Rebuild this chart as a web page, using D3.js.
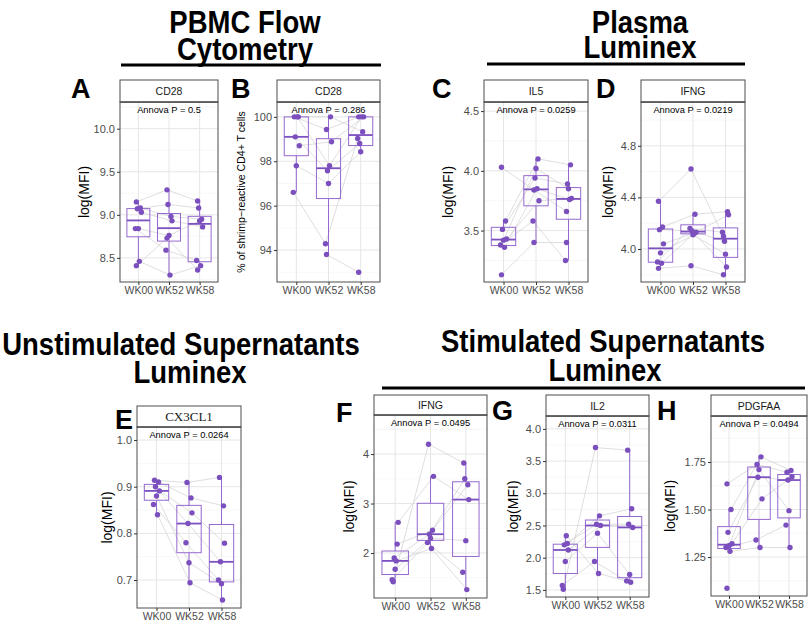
<!DOCTYPE html>
<html>
<head>
<meta charset="utf-8">
<script src="https://cdn.jsdelivr.net/npm/d3@7"></script>
<style>
  body { margin: 0; background: #fff; }
  svg text { font-family: "Liberation Sans", Arial, sans-serif; }
</style>
</head>
<body>
<svg id="fig" width="810" height="624"></svg>
<script>
var GROUPS = ["WK00", "WK52", "WK58"];

// one value per subject, null where the subject has no sample
var A_WK00 = [9.15, 9.08, 9.07, 9.03, 8.84, 8.84, 8.46, 8.41];
var A_WK52 = [9.29, 8.98, 9.12, 8.93, 8.76, 8.59, 8.30, 8.73];
var A_WK58 = [9.16, 8.95, 9.08, 8.86, 8.93, 8.47, 8.41, 8.36];
var A_TICKS = [8.5, 9.0, 9.5, 10.0];

var B_WK00 = [100, 100, 99.1, 98.7, 97.8, 96.6, 100, null];
var B_WK52 = [99.43, 100, 97.57, 98.88, 97.0, 94.28, 97.8, 93.8];
var B_WK58 = [100, 99.33, 98.8, 100, 98.43, 99.03, 100, 93.0];
var B_TICKS = [94, 96, 98, 100];

var C_WK00 = [4.03, 3.58, 3.51, 3.43, 3.42, 3.38, 3.36, 3.13];
var C_WK52 = [3.84, 4.10, 3.94, 3.75, 4.02, 3.58, 3.85, 3.40];
var C_WK58 = [3.66, 4.05, 3.89, 3.77, 3.85, 3.25, 3.76, 3.40];
var C_TICKS = [3.5, 4.0, 4.5];

var D_WK00 = [4.37, 4.17, 4.15, 4.04, 3.97, 3.90, 3.89, 3.85];
var D_WK52 = [4.62, 4.27, 4.14, 4.13, 4.11, 4.16, 4.12, 3.87];
var D_WK58 = [4.10, 4.29, 4.06, 4.265, 3.96, 4.13, 3.86, 3.80];
var D_TICKS = [4.0, 4.4, 4.8];

var E_WK00 = [0.914, 0.91, 0.90, 0.891, 0.88, 0.862, 0.84, null];
var E_WK52 = [0.909, 0.876, 0.821, 0.844, 0.737, 0.780, 0.694, null];
var E_WK58 = [0.92, 0.859, 0.739, 0.779, 0.692, 0.70, 0.657, null];
var E_TICKS = [0.7, 0.8, 0.9, 1.0];

var F_WK00 = [1.42, 2.18, 1.90, 2.62, 1.67, 1.46, 1.84, null];
var F_WK52 = [4.20, 2.46, 2.38, 3.55, 2.30, 2.21, 2.09, null];
var F_WK58 = [3.82, 3.38, 3.50, 3.08, 2.25, 1.61, 1.26, null];
var F_TICKS = [2, 3, 4];

var G_WK00 = [1.51, 2.22, 2.20, 2.12, 1.94, 1.57, 2.34, null];
var G_WK52 = [3.71, 2.65, 2.52, 2.50, 2.38, 1.94, 1.755, null];
var G_WK58 = [3.67, 2.76, 2.52, 2.47, 1.74, 1.64, 1.62, null];
var G_TICKS = [1.5, 2.0, 2.5, 3.0, 3.5, 4.0];

var H_WK00 = [1.635, 1.50, 1.38, 1.32, 1.31, 1.30, 1.28, 1.086];
var H_WK52 = [1.737, 1.777, 1.67, 1.556, 1.71, 1.34, 1.30, null];
var H_WK58 = [1.696, 1.705, 1.655, 1.672, 1.494, 1.418, 1.30, null];
var H_TICKS = [1.25, 1.50, 1.75];

var PT_COLOR = "#7b4fbd",
    BOX_COLOR = "#9569cf",
    PAIR_COLOR = "#d6d6d6",
    JIT = [-2, 2, -1, 3, 0, -3, 1, -2];

var svg = d3.select("#fig");

function boxStats(vals) {
  var s = vals.filter(function(v) { return v != null; }).sort(d3.ascending);
  var q1 = d3.quantile(s, 0.25), med = d3.quantile(s, 0.5), q3 = d3.quantile(s, 0.75);
  var iqr = q3 - q1;
  var lo = d3.min(s.filter(function(v) { return v >= q1 - 1.5 * iqr; }));
  var hi = d3.max(s.filter(function(v) { return v <= q3 + 1.5 * iqr; }));
  return {q1: q1, med: med, q3: q3, lo: lo, hi: hi};
}

function makePanel(p) {
  var g = svg.append("g");
  var x = d3.scalePoint().domain(GROUPS).range([p.x0, p.x1]).padding(0.6);
  var y = d3.scaleLinear().domain(p.domain).range([p.bottom, p.stripB]);
  var W = p.x1 - p.x0, H = p.bottom - p.stripB;

  g.append("rect").attr("x", p.x0).attr("y", p.stripB).attr("width", W).attr("height", H)
    .attr("fill", "#fff");

  // grid
  var step = p.ticks[1] - p.ticks[0], minor = [];
  for (var i = -1; i < p.ticks.length; i++) {
    var v = p.ticks[0] + step * (i + 0.5);
    if (v > p.domain[0] && v < p.domain[1]) minor.push(v);
  }
  g.selectAll(".minor").data(minor).enter().append("line")
    .attr("x1", p.x0).attr("x2", p.x1)
    .attr("y1", function(d) { return y(d); }).attr("y2", function(d) { return y(d); })
    .attr("stroke", "#f1f1f1").attr("stroke-width", 0.6);
  g.selectAll(".major").data(p.ticks).enter().append("line")
    .attr("x1", p.x0).attr("x2", p.x1)
    .attr("y1", function(d) { return y(d); }).attr("y2", function(d) { return y(d); })
    .attr("stroke", "#e6e6e6").attr("stroke-width", 1);
  g.selectAll(".vmajor").data(GROUPS).enter().append("line")
    .attr("x1", function(d) { return x(d); }).attr("x2", function(d) { return x(d); })
    .attr("y1", p.stripB).attr("y2", p.bottom)
    .attr("stroke", "#e6e6e6").attr("stroke-width", 1);

  // paired lines per subject
  var n = p.data[0].length;
  var line = d3.line().x(function(d) { return d[0]; }).y(function(d) { return d[1]; });
  for (var s = 0; s < n; s++) {
    var pts = [];
    p.data.forEach(function(arr, gi) {
      if (arr[s] != null) pts.push([x(GROUPS[gi]) + JIT[s], y(arr[s])]);
    });
    if (pts.length > 1) {
      g.append("path").attr("d", line(pts)).attr("fill", "none")
        .attr("stroke", PAIR_COLOR).attr("stroke-width", 0.8);
    }
  }

  // boxes
  var hw = x.step() * 0.375;
  p.data.forEach(function(arr, gi) {
    var st = boxStats(arr), cx = x(GROUPS[gi]);
    g.append("line").attr("x1", cx).attr("x2", cx).attr("y1", y(st.q3)).attr("y2", y(st.hi))
      .attr("stroke", BOX_COLOR).attr("stroke-width", 1);
    g.append("line").attr("x1", cx).attr("x2", cx).attr("y1", y(st.q1)).attr("y2", y(st.lo))
      .attr("stroke", BOX_COLOR).attr("stroke-width", 1);
    g.append("rect").attr("x", cx - hw).attr("y", y(st.q3)).attr("width", 2 * hw)
      .attr("height", y(st.q1) - y(st.q3))
      .attr("fill", "none").attr("stroke", BOX_COLOR).attr("stroke-width", 1);
    g.append("line").attr("x1", cx - hw).attr("x2", cx + hw).attr("y1", y(st.med)).attr("y2", y(st.med))
      .attr("stroke", "#7d52c0").attr("stroke-width", 1.8);
  });

  // points
  p.data.forEach(function(arr, gi) {
    arr.forEach(function(v, s) {
      if (v == null) return;
      g.append("circle").attr("cx", x(GROUPS[gi]) + JIT[s]).attr("cy", y(v)).attr("r", 2.7)
        .attr("fill", PT_COLOR);
    });
  });

  // panel border and strip
  g.append("rect").attr("x", p.x0).attr("y", p.stripB).attr("width", W).attr("height", H)
    .attr("fill", "none").attr("stroke", "#4d4d4d").attr("stroke-width", 1);
  g.append("rect").attr("x", p.x0).attr("y", p.top).attr("width", W).attr("height", p.stripB - p.top)
    .attr("fill", "#fff").attr("stroke", "#4d4d4d").attr("stroke-width", 1);
  g.append("line").attr("x1", p.x0).attr("x2", p.x1).attr("y1", p.stripB).attr("y2", p.stripB)
    .attr("stroke", "#555").attr("stroke-width", 1.6);
  g.append("text").attr("x", (p.x0 + p.x1) / 2).attr("y", (p.top + p.stripB) / 2 + 4)
    .attr("text-anchor", "middle").style("font-size", p.serif ? "13px" : "10.5px")
    .style("font-family", p.serif ? "'Liberation Serif', 'Times New Roman', serif" : null)
    .attr("fill", "#1a1a1a").text(p.title);
  g.append("text").attr("x", (p.x0 + p.x1) / 2).attr("y", p.stripB + 11)
    .attr("text-anchor", "middle").style("font-size", "9.3px").attr("fill", "#000")
    .text(p.pval);

  // axes
  var ya = g.append("g").attr("transform", "translate(" + p.x0 + ",0)")
    .call(d3.axisLeft(y).tickValues(p.ticks).tickSize(3).tickPadding(2).tickFormat(d3.format(p.fmt)));
  var xa = g.append("g").attr("transform", "translate(0," + p.bottom + ")")
    .call(d3.axisBottom(x).tickSize(3).tickPadding(2));
  [ya, xa].forEach(function(a) {
    a.select(".domain").remove();
    a.selectAll(".tick line").attr("stroke", "#333");
    a.selectAll(".tick text").attr("fill", "#4d4d4d")
      .style("font-family", "'Liberation Sans', Arial, sans-serif");
  });
  ya.selectAll(".tick text").style("font-size", "11px");
  xa.selectAll(".tick text").style("font-size", "10.5px");

  g.append("text")
    .attr("transform", "translate(" + p.ylabX + "," + ((p.stripB + p.bottom) / 2) + ") rotate(-90)")
    .attr("text-anchor", "middle").style("font-size", p.ylabSize).attr("fill", "#000")
    .text(p.ylab);

  g.append("text").attr("x", p.lx).attr("y", p.ly).style("font-size", "27px")
    .style("font-weight", "bold").attr("fill", "#000").text(p.letter);
}

var row1 = {top: 80, stripB: 102, bottom: 282};
var panels = [
  {letter: "A", lx: 71, ly: 98, title: "CD28", pval: "Annova P = 0.5", x0: 120, x1: 218,
   domain: [8.22, 10.31], ticks: A_TICKS, fmt: ".1f", ylab: "log(MFI)", ylabSize: "14px", ylabX: 89,
   data: [A_WK00, A_WK52, A_WK58]},
  {letter: "B", lx: 231, ly: 98, title: "CD28", pval: "Annova P = 0.286", x0: 277, x1: 380,
   domain: [92.56, 100.67], ticks: B_TICKS, fmt: "d", ylab: "% of shrimp\u2212reactive CD4+ T cells",
   ylabSize: "10.5px", ylabX: 245, data: [B_WK00, B_WK52, B_WK58]},
  {letter: "C", lx: 432, ly: 98, title: "IL5", pval: "Annova P = 0.0259", x0: 484, x1: 588,
   domain: [3.07, 4.576], ticks: C_TICKS, fmt: ".1f", ylab: "log(MFI)", ylabSize: "14px", ylabX: 453,
   data: [C_WK00, C_WK52, C_WK58]},
  {letter: "D", lx: 596, ly: 98, title: "IFNG", pval: "Annova P = 0.0219", x0: 641, x1: 745,
   domain: [3.744, 5.14], ticks: D_TICKS, fmt: ".1f", ylab: "log(MFI)", ylabSize: "14px", ylabX: 613,
   data: [D_WK00, D_WK52, D_WK58]}
];
panels.forEach(function(p) { p.top = row1.top; p.stripB = row1.stripB; p.bottom = row1.bottom; });

panels.push(
  {letter: "E", lx: 115, ly: 429, title: "CX3CL1", serif: true, pval: "Annova P = 0.0264",
   x0: 137, x1: 241, top: 406, stripB: 427, bottom: 608,
   domain: [0.64, 1.028], ticks: E_TICKS, fmt: ".1f", ylab: "log(MFI)", ylabSize: "14px", ylabX: 112,
   data: [E_WK00, E_WK52, E_WK58]},
  {letter: "F", lx: 336, ly: 422, title: "IFNG", pval: "Annova P = 0.0495",
   x0: 374, x1: 487, top: 395, stripB: 415, bottom: 598,
   domain: [1.09, 4.79], ticks: F_TICKS, fmt: "d", ylab: "log(MFI)", ylabSize: "14px", ylabX: 354,
   data: [F_WK00, F_WK52, F_WK58]},
  {letter: "G", lx: 492, ly: 420, title: "IL2", pval: "Annova P = 0.0311",
   x0: 546, x1: 649, top: 395, stripB: 416, bottom: 597,
   domain: [1.39, 4.2], ticks: G_TICKS, fmt: ".1f", ylab: "log(MFI)", ylabSize: "14px", ylabX: 518,
   data: [G_WK00, G_WK52, G_WK58]},
  {letter: "H", lx: 657, ly: 420, title: "PDGFAA", pval: "Annova P = 0.0494",
   x0: 711, x1: 807, top: 395, stripB: 416, bottom: 596,
   domain: [1.045, 1.992], ticks: H_TICKS, fmt: ".2f", ylab: "log(MFI)", ylabSize: "14px", ylabX: 675,
   data: [H_WK00, H_WK52, H_WK58]}
);

panels.forEach(makePanel);

// section headings, condensed to look like a narrow bold face
var heads = [
  {t: "PBMC Flow", x: 245, y: 33}, {t: "Cytometry", x: 245, y: 60},
  {t: "Plasma", x: 640, y: 33}, {t: "Luminex", x: 640, y: 58},
  {t: "Unstimulated Supernatants", x: 181, y: 355}, {t: "Luminex", x: 190, y: 383},
  {t: "Stimulated Supernatants", x: 603, y: 352}, {t: "Luminex", x: 605, y: 381}
];
svg.selectAll(".head").data(heads).enter().append("text")
  .attr("class", "head")
  .attr("transform", function(d) { return "translate(" + d.x + "," + d.y + ") scale(0.86,1)"; })
  .attr("text-anchor", "middle").style("font-size", "32px").style("font-weight", "bold")
  .attr("fill", "#000")
  .text(function(d) { return d.t; });

var rules = [[121, 381, 65], [487, 745, 64], [382, 805, 388]];
svg.selectAll(".rule").data(rules).enter().append("line")
  .attr("x1", function(d) { return d[0]; }).attr("x2", function(d) { return d[1]; })
  .attr("y1", function(d) { return d[2]; }).attr("y2", function(d) { return d[2]; })
  .attr("stroke", "#000").attr("stroke-width", 3);
</script>
</body>
</html>
